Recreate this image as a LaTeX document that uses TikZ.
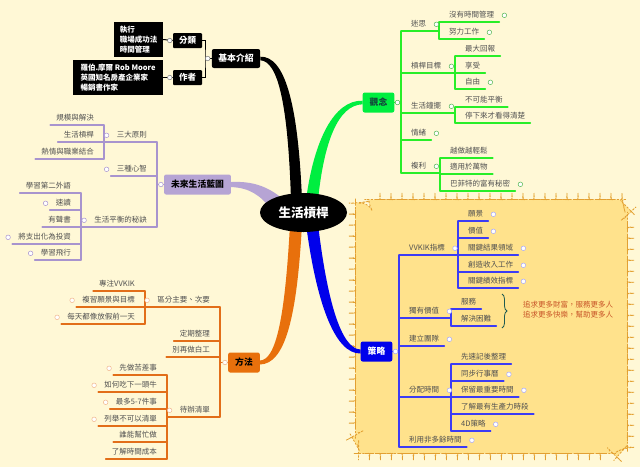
\documentclass[tikz,border=0pt]{standalone}
\usepackage{fontspec}
\setmainfont{Noto Sans CJK TC}
\usetikzlibrary{shapes.geometric,decorations.pathmorphing,decorations.pathreplacing,backgrounds}

\definecolor{bgcol}{RGB}{255,248,214}
\definecolor{cloudfill}{RGB}{255,226,140}
\definecolor{cloudline}{RGB}{226,160,50}
\definecolor{txtcol}{RGB}{80,80,80}
\definecolor{greenline}{RGB}{40,238,40}
\definecolor{ideafill}{RGB}{0,238,64}
\definecolor{ideatext}{RGB}{20,70,60}
\definecolor{blueline}{RGB}{60,60,245}
\definecolor{stratfill}{RGB}{0,0,235}
\definecolor{purpline}{RGB}{168,148,206}
\definecolor{planfill}{RGB}{182,164,212}
\definecolor{orangeline}{RGB}{226,110,25}
\definecolor{methodfill}{RGB}{232,112,12}
\definecolor{notecol}{RGB}{200,85,40}
\definecolor{bracecol}{RGB}{30,90,80}

\tikzset{
  sub/.style={font=\fontsize{7.5}{9}\selectfont, text=txtcol, inner xsep=10pt, inner ysep=2.5pt, text height=6.5pt, text depth=1.5pt},
  rsub/.style={sub, anchor=south west},
  lsub/.style={sub, anchor=south east},
  topic/.style={rounded corners=2pt, inner xsep=7pt, minimum height=20pt, font=\fontsize{8.8}{10}\selectfont\bfseries},
  smallbox/.style={fill=black, text=white, rounded corners=1pt, inner xsep=6pt, minimum height=15pt, font=\fontsize{8.5}{10}\selectfont\bfseries},
  infobox/.style={fill=black, text=white, align=left, inner xsep=5pt, minimum height=35pt, font=\fontsize{7.5}{10}\selectfont\bfseries},
  note/.style={font=\fontsize{7.5}{10}\selectfont, text=notecol, align=left},
  fold/.style={circle, draw=#1, fill=white, inner sep=0pt, minimum size=4.6pt, line width=0.5pt},
  fold/.default=gray,
  gline/.style={greenline, line width=1.2pt, line cap=round},
  bline/.style={blueline, line width=1.2pt, line cap=round},
  pline/.style={purpline, line width=1.2pt, line cap=round},
  oline/.style={orangeline, line width=1.2pt, line cap=round},
}

\begin{document}
\begin{tikzpicture}[x=1pt,y=-1pt]
\useasboundingbox (0,0) rectangle (640,467);

\node[ellipse, fill=black, text=white, inner sep=0pt, minimum width=87pt, minimum height=39pt, font=\fontsize{12.5}{14}\selectfont\bfseries] (root) at (303.5,212.5) {生活槓桿};

\node[topic, fill=black, text=white, inner xsep=6.5pt, minimum height=19pt] (intro) at (236,58.5) {基本介紹};
\node[smallbox] (cat) at (187.5,40.5) {分類};
\node[smallbox] (author) at (187.5,77.5) {作者};
\node[infobox, minimum width=49pt] (catinfo) at (138.5,39.5) {執行\\職場成功法\\時間管理};
\node[infobox, minimum width=90pt] (authorinfo) at (118,77.5) {羅伯.摩爾 Rob Moore\\英國知名房產企業家\\暢銷書作家};
\coordinate (kb) at (205,58.5);
\draw[black, line width=1pt] (cat.east) -| (kb) |- (author.east);
\draw[black, line width=1pt] (kb) -- (intro.west);
\draw[black, line width=1pt] (catinfo.east) -- (cat.west);
\draw[black, line width=1pt] (authorinfo.east) -- (author.west);
\node[fold] (fintro) at ([xshift=-4pt]intro.west) {};
\node[fold] (fcat) at ([xshift=-3pt]cat.west) {};
\node[fold] (fauthor) at ([xshift=-3pt]author.west) {};

\node[topic, fill=ideafill, text=ideatext] (idea) at (378.5,102.5) {觀念};
\node[rsub] (g1) at (401,31) {迷思};
\node[rsub] (g11) at (439,22) {沒有時間管理};
\node[rsub] (g12) at (439,39) {努力工作};
\node[rsub] (g2) at (401,73) {槓桿目標};
\node[rsub] (g21) at (455,56) {最大回報};
\node[rsub] (g22) at (455,73) {享受};
\node[rsub] (g23) at (455,89) {自由};
\node[rsub] (g3) at (401,113) {生活鐘擺};
\node[rsub] (g31) at (455,107) {不可能平衡};
\node[rsub] (g32) at (455,123) {停下來才看得清楚};
\node[rsub] (g4) at (401,140) {情緒};
\node[rsub] (g5) at (401,173) {複利};
\node[rsub] (g51) at (440,158) {越做越輕鬆};
\node[rsub] (g52) at (440,174) {適用於萬物};
\node[rsub] (g53) at (440,191) {巴菲特的富有秘密};
\draw[gline] (idea.east) -- (idea.east -| g1.south west);
\draw[gline] (g1.south west) -- (g5.south west);
\foreach \nodeP/\nodeF/\nodeL in {g1/g11/g12, g2/g21/g23, g3/g31/g32, g5/g51/g53}{
  \draw[gline] (\nodeP.south west) -- (\nodeP.south west -| \nodeF.south west);
  \draw[gline] (\nodeF.south west) -- (\nodeL.south west);
}
\foreach \n in {g11,g12,g21,g22,g23,g31,g32,g4,g51,g52,g53}
  \draw[gline] (\n.south west) -- ([xshift=-5pt]\n.south east);
\foreach \n in {g1,g2,g3,g4,g5,g11,g12,g23,g53}
  \node[fold=greenline!50!gray] (f\n) at (\n.east) {};
\node[fold=greenline!50!gray] (fidea) at ([xshift=3pt]idea.east) {};

\node[topic, fill=stratfill, text=white] (strategy) at (376.5,351.5) {策略};
\node[rsub] (b1) at (399,255) {VVKIK指標};
\node[rsub] (b11) at (458,221) {願景};
\node[rsub] (b12) at (458,238) {價值};
\node[rsub] (b13) at (458,255) {關鍵結果領域};
\node[rsub] (b14) at (458,272) {創造收入工作};
\node[rsub] (b15) at (458,288) {關鍵績效指標};
\node[rsub] (b2) at (399,318) {獨有價值};
\node[rsub] (b21) at (451,309) {服務};
\node[rsub] (b22) at (451,326) {解決困難};
\node[rsub] (b3) at (399,346) {建立團隊};
\node[rsub] (b4) at (399,397) {分配時間};
\node[rsub] (b41) at (451,364) {先速記後整理};
\node[rsub] (b42) at (451,381) {同步行事曆};
\node[rsub] (b43) at (451,397) {保留最重要時間};
\node[rsub] (b44) at (451,414) {了解最有生產力時段};
\node[rsub] (b45) at (451,431) {4D策略};
\node[rsub] (b5) at (399,447) {利用非多餘時間};
\node[note] (goal) at (568,310) {追求更多財富，服務更多人\\追求更多快樂，幫助更多人};
\draw[bracecol, line width=0.8pt, decorate, decoration={brace, amplitude=5pt}] (502,294) -- (502,328);
\draw[bline] (strategy.east) -- (strategy.east -| b1.south west);
\draw[bline] (b1.south west) -- (b5.south west);
\foreach \nodeP/\nodeF/\nodeL in {b1/b11/b15, b2/b21/b22, b4/b41/b45}{
  \draw[bline] (\nodeP.south west) -- (\nodeP.south west -| \nodeF.south west);
  \draw[bline] (\nodeF.south west) -- (\nodeL.south west);
}
\foreach \n in {b11,b12,b13,b14,b15,b21,b22,b3,b41,b42,b43,b44,b45,b5}
  \draw[bline] (\n.south west) -- ([xshift=-5pt]\n.south east);
\foreach \n in {b1,b2,b3,b4,b5,b11,b12,b13,b14,b15,b42,b43,b45}
  \node[fold=blueline!45!white] (f\n) at (\n.east) {};
\node[fold=blueline!45!white] (fstrategy) at ([xshift=3pt]strategy.east) {};

\node[topic, fill=planfill, text=black] (plan) at (197.5,184.5) {未來生活藍圖};
\node[lsub] (p1) at (157,142) {三大原則};
\node[lsub] (p11) at (104,125) {規模與解決};
\node[lsub] (p12) at (104,142) {生活槓桿};
\node[lsub] (p13) at (104,159) {熱情與職業結合};
\node[lsub] (p2) at (157,176) {三種心智};
\node[lsub] (p3) at (157,227) {生活平衡的秘訣};
\node[lsub] (p31) at (81,193) {學習第二外語};
\node[lsub] (p32) at (81,210) {速讀};
\node[lsub] (p33) at (81,227) {有聲書};
\node[lsub] (p34) at (81,244) {將支出化為投資};
\node[lsub] (p35) at (81,260) {學習飛行};
\draw[pline] (plan.west) -- (plan.west -| p1.south east);
\draw[pline] (p1.south east) -- (p3.south east);
\foreach \nodeP/\nodeF/\nodeL in {p1/p11/p13, p3/p31/p35}{
  \draw[pline] (\nodeP.south east) -- (\nodeP.south east -| \nodeF.south east);
  \draw[pline] (\nodeF.south east) -- (\nodeL.south east);
}
\foreach \n in {p11,p12,p13,p2,p31,p32,p33,p34,p35}
  \draw[pline] ([xshift=4pt]\n.south west) -- (\n.south east);
\foreach \n in {p1,p2,p3,p32,p34,p35}
  \node[fold=purpline] (f\n) at (\n.west) {};
\node[fold=purpline] (fplan) at ([xshift=-3pt]plan.west) {};

\node[topic, fill=methodfill, text=black] (method) at (244,362.5) {方法};
\node[lsub] (o1) at (220,307) {區分主要、次要};
\node[lsub] (o11) at (145,291) {專注VVKIK};
\node[lsub] (o12) at (145,307) {複習願景與目標};
\node[lsub] (o13) at (145,324) {每天都像放假前一天};
\node[lsub] (o2) at (220,341) {定期整理};
\node[lsub] (o3) at (220,357) {別再做白工};
\node[lsub] (o4) at (220,417) {待辦清單};
\node[lsub] (o41) at (167,375) {先做苦差事};
\node[lsub] (o42) at (167,392) {如何吃下一頭牛};
\node[lsub] (o43) at (167,409) {最多5-7件事};
\node[lsub] (o44) at (167,426) {列舉不可以清單};
\node[lsub] (o45) at (167,442) {誰能幫忙做};
\node[lsub] (o46) at (167,459) {了解時間成本};
\draw[oline] (method.west) -- (method.west -| o1.south east);
\draw[oline] (o1.south east) -- (o4.south east);
\foreach \nodeP/\nodeF/\nodeL in {o1/o11/o13, o4/o41/o46}{
  \draw[oline] (\nodeP.south east) -- (\nodeP.south east -| \nodeF.south east);
  \draw[oline] (\nodeF.south east) -- (\nodeL.south east);
}
\foreach \n in {o11,o12,o13,o2,o3,o41,o42,o43,o44,o45,o46}
  \draw[oline] ([xshift=4pt]\n.south west) -- (\n.south east);
\foreach \n in {o1,o4,o12,o13,o41,o42,o43,o44}
  \node[fold=orangeline!50!white] (f\n) at (\n.west) {};
\node[fold=orangeline!50!white] (fmethod) at ([xshift=-3pt]method.west) {};

\begin{scope}[on background layer]
\fill[bgcol] (0,0) rectangle (640,467);
\path[fill=cloudfill, draw=cloudline, line width=0.8pt, dash pattern=on 2pt off 1.5pt, rounded corners=10pt, decorate, decoration={bumps, segment length=22pt, amplitude=3.5pt}] (359,203) -- (624,203) -- (624,450) -- (359,450) -- cycle;
\fill[black] ([yshift=1.8pt]intro.east) .. controls (284,56) and (298,100) .. (302,200) -- (291,200) .. controls (288,104) and (278,61) .. ([yshift=-1.8pt]intro.east) -- cycle;
\fill[ideafill] ([yshift=1.8pt]idea.west) .. controls (334,100) and (314,140) .. (306,200) -- (318,200) .. controls (324,142) and (338,105) .. ([yshift=-1.8pt]idea.west) -- cycle;
\fill[planfill] ([yshift=2.5pt]plan.east) .. controls (252,181) and (268,186) .. (284,200) -- (272,210) .. controls (260,195) and (250,188) .. ([yshift=-2.5pt]plan.east) -- cycle;
\fill[methodfill] ([yshift=-2pt]method.east) .. controls (285,364) and (297,318) .. (302,224) -- (290,224) .. controls (285,318) and (276,360) .. ([yshift=2pt]method.east) -- cycle;
\fill[stratfill] ([yshift=-2pt]strategy.west) .. controls (334,354) and (316,300) .. (306,224) -- (318,224) .. controls (327,300) and (341,349) .. ([yshift=2pt]strategy.west) -- cycle;
\end{scope}
\end{tikzpicture}
\end{document}
